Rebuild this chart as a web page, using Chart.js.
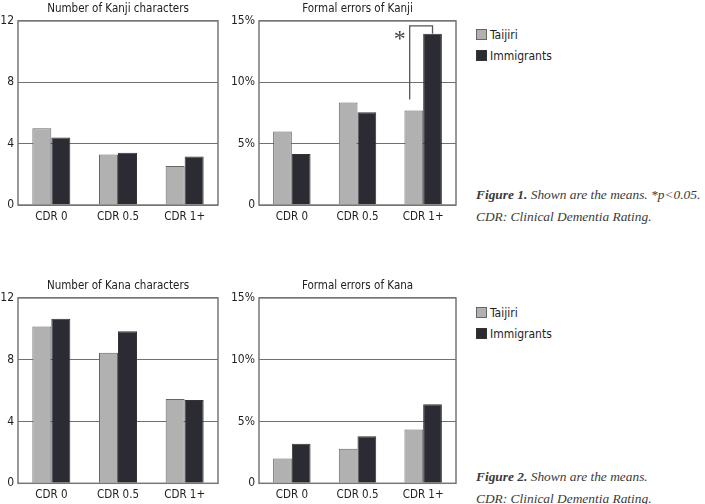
<!DOCTYPE html>
<html lang="en">
<head>
    <meta charset="UTF-8">
    <title>Kanji and Kana writing by CDR</title>
    <script src="https://cdn.jsdelivr.net/npm/chart.js"></script>
    <style>
        body {
            margin: 0;
            width: 705px;
            height: 504px;
            background: #ffffff;
            position: relative;
            overflow: hidden;
            font-family: 'DejaVu Sans Condensed', 'Liberation Sans Narrow', sans-serif;
        }
        .panel { position: absolute; }
        .legend {
            position: absolute;
            left: 476px;
            font-size: 12px;
            color: #1e1e1e;
        }
        .legend div { height: 21px; line-height: 21px; white-space: nowrap; }
        .legend span {
            display: inline-block;
            width: 9px;
            height: 9px;
            margin-right: 3px;
            vertical-align: -1px;
            border: 1px solid #555;
        }
        .caption {
            position: absolute;
            left: 476px;
            font-family: 'Liberation Serif', serif;
            font-style: italic;
            font-size: 13.4px;
            line-height: 21.5px;
            color: #3a3a3a;
            white-space: nowrap;
        }
        .caption b { font-weight: bold; }
    </style>
</head>
<body>
    <div class="panel" style="left:0;top:0;width:222px;height:230px"><canvas id="kanjiCount"></canvas></div>
    <div class="panel" style="left:230px;top:0;width:230px;height:230px"><canvas id="kanjiErr"></canvas></div>
    <div class="panel" style="left:0;top:277px;width:222px;height:227px"><canvas id="kanaCount"></canvas></div>
    <div class="panel" style="left:230px;top:277px;width:230px;height:227px"><canvas id="kanaErr"></canvas></div>

    <div class="legend" id="legend1" style="top:25px"></div>
    <div class="legend" id="legend2" style="top:303px"></div>

    <div class="caption" style="top:184px"><b>Figure 1.</b> Shown are the means. *p&lt;0.05.<br>CDR: Clinical Dementia Rating.</div>
    <div class="caption" style="top:466px"><b>Figure 2.</b> Shown are the means.<br>CDR: Clinical Dementia Rating.</div>

    <script>
        const categories = ['CDR 0', 'CDR 0.5', 'CDR 1+'];
        const seriesNames = ['Taijiri', 'Immigrants'];

        // Figure 1
        const kanjiCountTaijiri = [5.0, 3.3, 2.55];
        const kanjiCountImmigrants = [4.4, 3.4, 3.17];
        const kanjiErrTaijiri = [6.0, 8.35, 7.7];
        const kanjiErrImmigrants = [4.15, 7.55, 13.95];

        // Figure 2
        const kanaCountTaijiri = [10.15, 8.45, 5.45];
        const kanaCountImmigrants = [10.65, 9.85, 5.4];
        const kanaErrTaijiri = [2.0, 2.8, 4.35];
        const kanaErrImmigrants = [3.2, 3.8, 6.4];

        const countTicks = [0, 4, 8, 12];
        const percentTicks = [0, 5, 10, 15];

        // significance bracket on Kanji errors, CDR 1+ (values in %)
        const sigIndex = 2;
        const sigTop = 14.6;
        const sigLeftBottom = 8.6;
        const sigLabel = '*';

        const barColors = ['#b1b1b1', '#2b2b33'];
        const barBorders = ['#666666', '#333333'];
        const fontFamily = "'DejaVu Sans Condensed', 'Liberation Sans Narrow', sans-serif";
        const tickFont = { family: fontFamily, size: 11.5 };

        // box around the plot area
        const frame = {
            id: 'frame',
            afterDraw(chart) {
                const a = chart.chartArea, ctx = chart.ctx;
                ctx.save();
                ctx.strokeStyle = '#777';
                ctx.lineWidth = 1.5;
                ctx.strokeRect(a.left, a.top, a.right - a.left, a.bottom - a.top);
                ctx.restore();
            }
        };

        const bracket = {
            id: 'bracket',
            afterDatasetsDraw(chart) {
                const y = chart.scales.y, ctx = chart.ctx;
                const left = chart.getDatasetMeta(0).data[sigIndex];
                const right = chart.getDatasetMeta(1).data[sigIndex];
                const xl = left.x - left.width * 0.22;
                const xr = right.x;
                const yt = y.getPixelForValue(sigTop);
                ctx.save();
                ctx.strokeStyle = '#555';
                ctx.lineWidth = 1.3;
                ctx.beginPath();
                ctx.moveTo(xl, y.getPixelForValue(sigLeftBottom));
                ctx.lineTo(xl, yt);
                ctx.lineTo(xr, yt);
                ctx.lineTo(xr, right.y);
                ctx.stroke();
                ctx.fillStyle = '#444';
                ctx.font = '24px "Liberation Serif", serif';
                ctx.textAlign = 'center';
                ctx.textBaseline = 'middle';
                ctx.fillText(sigLabel, xl - 10, yt + 14);
                ctx.restore();
            }
        };

        function makeChart(id, title, a, b, ticks, yWidth, isPct, extra) {
            return new Chart(document.getElementById(id), {
                type: 'bar',
                data: {
                    labels: categories,
                    datasets: [a, b].map((d, i) => ({
                        label: seriesNames[i],
                        data: d,
                        backgroundColor: barColors[i],
                        borderColor: barBorders[i],
                        borderWidth: 1,
                        categoryPercentage: 0.57,
                        barPercentage: 1.0
                    }))
                },
                options: {
                    responsive: true,
                    maintainAspectRatio: false,
                    animation: false,
                    layout: { padding: { right: 4, left: 0, top: 0, bottom: 0 } },
                    plugins: {
                        legend: { display: false },
                        tooltip: { enabled: false },
                        title: {
                            display: true,
                            text: title,
                            fullSize: false,
                            color: '#222',
                            font: { family: fontFamily, size: 11.5, weight: 'normal', lineHeight: 1.3 },
                            padding: { top: 2, bottom: 4 }
                        }
                    },
                    scales: {
                        x: {
                            grid: { display: false, drawTicks: false },
                            border: { display: false },
                            ticks: { color: '#1e1e1e', font: tickFont, padding: 5 },
                            afterFit: s => { s.height = (id.startsWith('kana') ? 20.7 : 25); }
                        },
                        y: {
                            min: ticks[0],
                            max: ticks[ticks.length - 1],
                            afterBuildTicks: s => { s.ticks = ticks.map(v => ({ value: v })); },
                            grid: { color: '#707070', lineWidth: 1, drawTicks: false },
                            border: { display: false },
                            ticks: {
                                color: '#1e1e1e',
                                font: { family: fontFamily, size: 12 },
                                padding: 4,
                                callback: v => (isPct && v !== 0) ? v + '%' : String(v)
                            },
                            afterFit: s => { s.width = yWidth; }
                        }
                    }
                },
                plugins: [frame].concat(extra || [])
            });
        }

        makeChart('kanjiCount', 'Number of Kanji characters', kanjiCountTaijiri, kanjiCountImmigrants, countTicks, 18, false);
        makeChart('kanjiErr', 'Formal errors of Kanji', kanjiErrTaijiri, kanjiErrImmigrants, percentTicks, 29, true, [bracket]);
        makeChart('kanaCount', 'Number of Kana characters', kanaCountTaijiri, kanaCountImmigrants, countTicks, 18, false);
        makeChart('kanaErr', 'Formal errors of Kana', kanaErrTaijiri, kanaErrImmigrants, percentTicks, 29, true);

        ['legend1', 'legend2'].forEach(id => {
            document.getElementById(id).innerHTML = seriesNames.map((n, i) =>
                '<div><span style="background:' + barColors[i] + ';border-color:' + barBorders[i] + '"></span>' + n + '</div>'
            ).join('');
        });
    </script>
</body>
</html>
